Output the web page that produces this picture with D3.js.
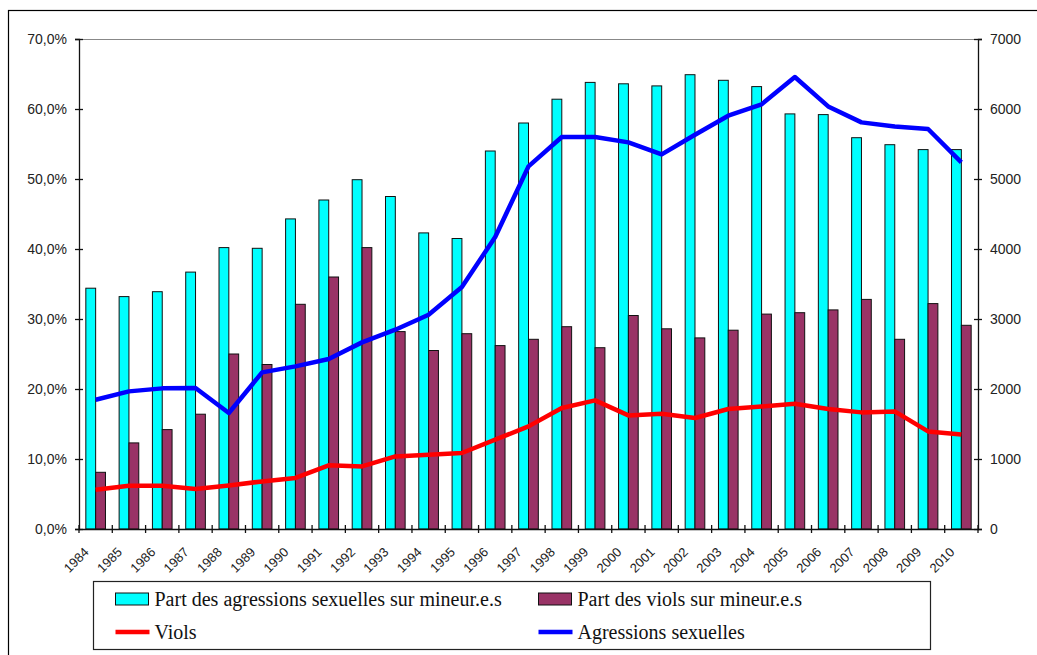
<!DOCTYPE html>
<meta charset="utf-8">
<style>
body { margin: 0; background: #fff; }
text { font-family: Arial, "Liberation Sans", sans-serif; fill: #222; }
text.legend-label { font-family: "Liberation Serif", "Times New Roman", serif; fill: #111; }
</style>
<body>
<script src="https://cdn.jsdelivr.net/npm/d3@7"></script>
<script>

var width = 1037,
    height = 655;

// data
var years = d3.range(1984, 2011).map(String);
var partAgressions = [34.4, 33.2, 33.9, 36.7, 40.2, 40.1, 44.3, 47.0, 49.9, 47.5, 42.3, 41.5, 54.0,
                      58.0, 61.4, 63.8, 63.6, 63.3, 64.9, 64.1, 63.2, 59.3, 59.2, 55.9, 54.9, 54.2, 54.2];
var partViols = [8.1, 12.3, 14.2, 16.4, 25.0, 23.5, 32.1, 36.0, 40.2, 28.2, 25.5, 27.9, 26.2,
                 27.1, 28.9, 25.9, 30.5, 28.6, 27.3, 28.4, 30.7, 30.9, 31.3, 32.8, 27.1, 32.2, 29.1];
var viols = [561, 619, 619, 571, 623, 680, 729, 909, 894, 1037, 1061, 1086, 1276,
             1466, 1729, 1837, 1623, 1647, 1586, 1714, 1751, 1790, 1714, 1666, 1680, 1394, 1351];
var agressions = [1847, 1966, 2009, 2014, 1657, 2237, 2323, 2429, 2666, 2847, 3061, 3457, 4171,
                  5180, 5600, 5600, 5523, 5351, 5633, 5904, 6066, 6457, 6037, 5809, 5751, 5714, 5237];
var pctTicks = [0, 10, 20, 30, 40, 50, 60, 70];
var countTicks = [0, 1000, 2000, 3000, 4000, 5000, 6000, 7000];

var margin = {top: 39, right: 59, bottom: 126, left: 79};
var w = width - margin.left - margin.right,
    h = height - margin.top - margin.bottom;

var svg = d3.select("body").append("svg")
    .attr("width", width)
    .attr("height", height);

// outer frame
svg.append("rect")
    .attr("x", 8.5).attr("y", 10.5)
    .attr("width", width + 20).attr("height", height + 20)
    .attr("fill", "none").attr("stroke", "#000").attr("stroke-width", 1.2);

var g = svg.append("g")
    .attr("transform", "translate(" + margin.left + "," + margin.top + ")");

var x = d3.scaleBand().domain(years).range([0, w]);
var xBar = d3.scaleBand().domain(["a", "v"]).range([x.bandwidth() * 0.205, x.bandwidth() * 0.795]);
var yL = d3.scaleLinear().domain([0, 70]).range([h, 0]);
var yR = d3.scaleLinear().domain([0, 7000]).range([h, 0]);

// plot top border
g.append("line")
    .attr("x1", 0).attr("x2", w).attr("y1", 0.5).attr("y2", 0.5)
    .attr("stroke", "#888").attr("stroke-width", 1);

// bars
var groups = g.selectAll(".year")
    .data(years)
  .enter().append("g")
    .attr("class", "year")
    .attr("transform", function(d) { return "translate(" + x(d) + ",0)"; });

groups.append("rect")
    .attr("x", xBar("a"))
    .attr("y", function(d, i) { return yL(partAgressions[i]); })
    .attr("width", xBar.bandwidth())
    .attr("height", function(d, i) { return h - yL(partAgressions[i]); })
    .attr("fill", "#00FFFF").attr("stroke", "#111").attr("stroke-width", 1);

groups.append("rect")
    .attr("x", xBar("v"))
    .attr("y", function(d, i) { return yL(partViols[i]); })
    .attr("width", xBar.bandwidth())
    .attr("height", function(d, i) { return h - yL(partViols[i]); })
    .attr("fill", "#993366").attr("stroke", "#111").attr("stroke-width", 1);

// lines
var line = d3.line()
    .x(function(d, i) { return x(years[i]) + x.bandwidth() / 2; });

g.append("path")
    .datum(viols)
    .attr("d", line.y(function(d) { return yR(d); }))
    .attr("fill", "none").attr("stroke", "#FF0000").attr("stroke-width", 4.5)
    .attr("stroke-linejoin", "round");

g.append("path")
    .datum(agressions)
    .attr("d", line.y(function(d) { return yR(d); }))
    .attr("fill", "none").attr("stroke", "#0000FF").attr("stroke-width", 4.5)
    .attr("stroke-linejoin", "round");

// axes
var fmtPct = function(d) { return d.toFixed(1).replace(".", ",") + "%"; };

var axL = g.append("g")
    .call(d3.axisLeft(yL).tickValues(pctTicks).tickFormat(fmtPct).tickSize(4).tickPadding(8));
var axR = g.append("g")
    .attr("transform", "translate(" + w + ",0)")
    .call(d3.axisRight(yR).tickValues(countTicks).tickFormat(d3.format("d")).tickSize(4).tickPadding(8));
var axB = g.append("g")
    .attr("transform", "translate(0," + h + ")")
    .call(d3.axisBottom(x).tickSize(0).tickFormat(""));

[axL, axR, axB].forEach(function(a) {
  a.select(".domain").attr("stroke", "#111").attr("stroke-width", 1.3);
  a.selectAll(".tick line").attr("stroke", "#111").attr("stroke-width", 1.3);
  a.selectAll("text").attr("font-size", 14).attr("fill", "#222");
});
// crossing ticks
axL.selectAll(".tick line").attr("x1", 4);
axR.selectAll(".tick line").attr("x1", -4);

// category edge ticks
axB.selectAll(".edge")
    .data(years.concat(["end"]))
  .enter().append("line")
    .attr("x1", function(d, i) { return i * x.step(); })
    .attr("x2", function(d, i) { return i * x.step(); })
    .attr("y1", -4).attr("y2", 4)
    .attr("stroke", "#111").attr("stroke-width", 1.3);

// rotated year labels
g.append("g").selectAll("text")
    .data(years)
  .enter().append("text")
    .attr("transform", function(d) {
      return "translate(" + (x(d) + x.bandwidth() / 2 - 6) + "," + (h + 24) + ") rotate(-45)";
    })
    .attr("text-anchor", "end")
    .attr("font-size", 13)
    .text(function(d) { return d; });

// legend
var legend = svg.append("g");
legend.append("rect")
    .attr("x", 93.5).attr("y", 581.5).attr("width", 837).attr("height", 68)
    .attr("fill", "#fff").attr("stroke", "#222").attr("stroke-width", 1.2);

var legendItems = [
  {label: "Part des agressions sexuelles sur mineur.e.s", type: "bar", color: "#00FFFF", col: 0, row: 0},
  {label: "Part des viols sur mineur.e.s", type: "bar", color: "#993366", col: 1, row: 0},
  {label: "Viols", type: "line", color: "#FF0000", col: 0, row: 1},
  {label: "Agressions sexuelles", type: "line", color: "#0000FF", col: 1, row: 1}
];
var colX = [115.5, 538.5], rowY = [599, 632];

legendItems.forEach(function(d) {
  var lx = colX[d.col], ly = rowY[d.row];
  if (d.type === "bar") {
    legend.append("rect")
        .attr("x", lx).attr("y", ly - 6).attr("width", 33).attr("height", 12)
        .attr("fill", d.color).attr("stroke", "#111").attr("stroke-width", 1);
  } else {
    legend.append("line")
        .attr("x1", lx).attr("x2", lx + 34).attr("y1", ly).attr("y2", ly)
        .attr("stroke", d.color).attr("stroke-width", 4.5);
  }
  legend.append("text")
      .attr("class", "legend-label")
      .attr("x", lx + 39).attr("y", ly + 7)
      .attr("font-size", 20)
      .text(d.label);
});

</script>
